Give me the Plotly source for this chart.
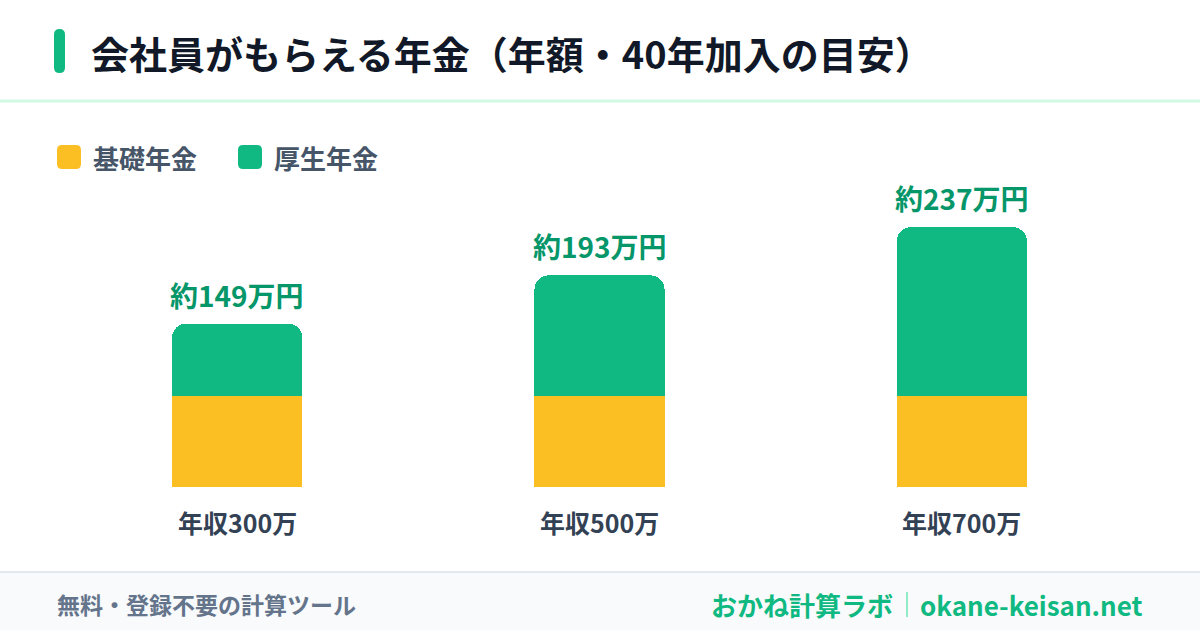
import plotly.graph_objects as go

categories = ["年収300万", "年収500万", "年収700万"]
kiso = [83, 83, 83]
kosei = [66, 110, 154]
totals_label = ["約149万円", "約193万円", "約237万円"]
series_names = ["基礎年金", "厚生年金"]

W, H = 1200, 630
ML, MR, MT, MB = 56, 57, 180, 143
PW, PH = W - ML - MR, H - MT - MB

def px(x):
    return (x - ML) / PW

def py(y):
    return (H - MB - y) / PH

def rrect(x0, y0, x1, y1, r):
    # rounded rectangle path in paper coords from pixel coords
    pts = [
        ("M", x0 + r, y0), ("L", x1 - r, y0), ("Q", x1, y0, x1, y0 + r),
        ("L", x1, y1 - r), ("Q", x1, y1, x1 - r, y1), ("L", x0 + r, y1),
        ("Q", x0, y1, x0, y1 - r), ("L", x0, y0 + r), ("Q", x0, y0, x0 + r, y0),
    ]
    s = ""
    for p in pts:
        cmd = p[0]
        vals = p[1:]
        coords = []
        for i in range(0, len(vals), 2):
            coords.append(f"{px(vals[i]):.5f},{py(vals[i+1]):.5f}")
        s += cmd + " " + " ".join(coords) + " "
    return s + "Z"

FONT = "Noto Sans CJK JP"
GREEN = "#10b981"
YELLOW = "#fbbf24"

fig = go.Figure()
fig.add_trace(go.Bar(x=categories, y=kiso, name=series_names[0], marker_color=YELLOW,
                     marker_line_width=0, width=0.359, hoverinfo="skip"))
fig.add_trace(go.Bar(x=categories, y=kosei, name=series_names[1], marker_color=GREEN,
                     marker_line_width=0, width=0.359, hoverinfo="skip"))

annotations = []
for c, a, b, lab in zip(categories, kiso, kosei, totals_label):
    annotations.append(dict(x=c, y=a + b, xref="x", yref="y", text=f"<b>{lab}</b>",
                            showarrow=False, yanchor="middle", yshift=29,
                            font=dict(family=FONT, size=28, color="#059669")))
    annotations.append(dict(x=c, y=0, xref="x", yref="y", text=f"<b>{c}</b>",
                            showarrow=False, yanchor="middle", yshift=-35,
                            font=dict(family=FONT, size=25, color="#334155")))

# title
annotations.append(dict(x=px(89), y=py(52), xref="paper", yref="paper", xanchor="left",
                        yanchor="middle", showarrow=False,
                        text="<b>会社員がもらえる年金（年額・40年加入の目安）</b>",
                        font=dict(family=FONT, size=38, color="#111827")))
# legend
leg_x = [57, 238]
leg_colors = [YELLOW, GREEN]
shapes = []
for lx, col, nm in zip(leg_x, leg_colors, series_names):
    shapes.append(dict(type="path", xref="paper", yref="paper", path=rrect(lx, 145, lx + 24, 169, 5),
                       fillcolor=col, line_width=0))
    annotations.append(dict(x=px(lx + 34), y=py(157), xref="paper", yref="paper",
                            xanchor="left", yanchor="middle", showarrow=False,
                            text=f"<b>{nm}</b>",
                            font=dict(family=FONT, size=26, color="#475569")))

# footer
shapes.append(dict(type="rect", xref="paper", yref="paper", x0=px(0), x1=px(W),
                   y0=py(H), y1=py(572), fillcolor="#f8fafc", line_width=0, layer="below"))
shapes.append(dict(type="line", xref="paper", yref="paper", x0=px(0), x1=px(W),
                   y0=py(572), y1=py(572), line=dict(color="#e2e8f0", width=2)))
# header separator
shapes.append(dict(type="line", xref="paper", yref="paper", x0=px(0), x1=px(W),
                   y0=py(101), y1=py(101), line=dict(color="#d1fae5", width=3)))
# accent bar
shapes.append(dict(type="path", xref="paper", yref="paper", path=rrect(54, 29, 65, 73, 5.5),
                   fillcolor=GREEN, line_width=0))
# footer separator
shapes.append(dict(type="line", xref="paper", yref="paper", x0=px(907), x1=px(907),
                   y0=py(592), y1=py(617), line=dict(color="#6ee7b7", width=1.5)))

annotations.append(dict(x=px(55), y=py(604), xref="paper", yref="paper", xanchor="left",
                        yanchor="middle", showarrow=False, text="<b>無料・登録不要の計算ツール</b>",
                        font=dict(family=FONT, size=23, color="#64748b")))
annotations.append(dict(x=px(895), y=py(604), xref="paper", yref="paper", xanchor="right",
                        yanchor="middle", showarrow=False, text="<b>おかね計算ラボ</b>",
                        font=dict(family=FONT, size=26, color=GREEN)))
annotations.append(dict(x=px(918), y=py(604), xref="paper", yref="paper", xanchor="left",
                        yanchor="middle", showarrow=False, text="<b>okane-keisan.net</b>",
                        font=dict(family=FONT, size=26, color=GREEN)))

fig.update_layout(
    width=W, height=H, margin=dict(l=ML, r=MR, t=MT, b=MB),
    barmode="stack", barcornerradius=14, showlegend=False,
    paper_bgcolor="white", plot_bgcolor="white",
    xaxis=dict(range=[-0.5, 2.5], showticklabels=False, showgrid=False, zeroline=False,
               showline=False, ticks=""),
    yaxis=dict(range=[0, 280], visible=False),
    annotations=annotations, shapes=shapes,
)
fig.write_html("out.html", config={"displayModeBar": False})
